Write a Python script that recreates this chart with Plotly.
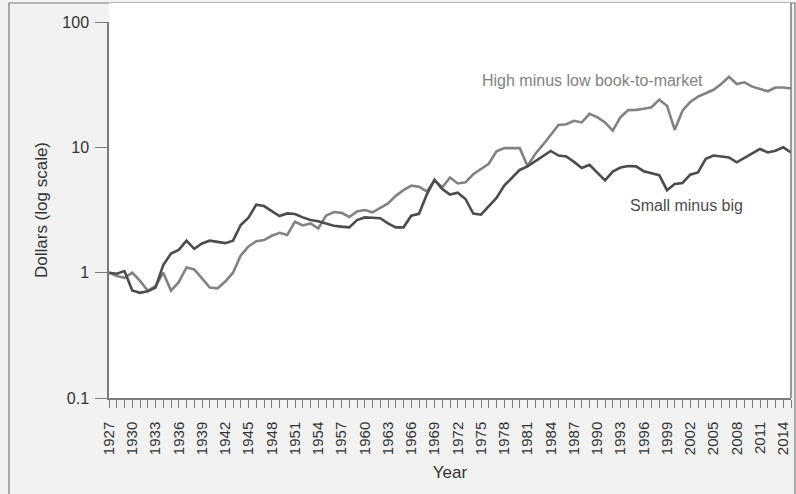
import math
import plotly.graph_objects as go

# Cumulative value of $1 invested in 1927, Fama-French factor portfolios
years = list(range(1927, 2016))

small_minus_big = [
    1.00, 0.98, 1.03, 0.72, 0.69, 0.71, 0.76, 1.15, 1.42, 1.52,  # 1927-1936
    1.80, 1.55, 1.71, 1.80, 1.76, 1.72, 1.80, 2.40, 2.75, 3.49,  # 1937-1946
    3.40, 3.08, 2.83, 2.97, 2.94, 2.76, 2.63, 2.57, 2.45, 2.37,  # 1947-1956
    2.33, 2.30, 2.63, 2.76, 2.74, 2.72, 2.47, 2.30, 2.30, 2.85,  # 1957-1966
    2.95, 4.20, 5.50, 4.65, 4.20, 4.35, 3.87, 2.96, 2.90, 3.40,  # 1967-1976
    3.95, 4.95, 5.75, 6.60, 7.05, 7.75, 8.40, 9.35, 8.60, 8.45,  # 1977-1986
    7.65, 6.85, 7.26, 6.30, 5.45, 6.40, 6.90, 7.10, 7.05, 6.45,  # 1987-1996
    6.20, 6.00, 4.55, 5.10, 5.20, 6.05, 6.30, 8.10, 8.60, 8.40,  # 1997-2006
    8.30, 7.60, 8.20, 8.95, 9.70, 9.10, 9.40, 10.0, 9.10,        # 2007-2015
]

high_minus_low = [
    1.00, 0.94, 0.91, 1.00, 0.86, 0.72, 0.78, 1.00, 0.72, 0.84,  # 1927-1936
    1.10, 1.06, 0.90, 0.76, 0.75, 0.85, 1.00, 1.37, 1.62, 1.78,  # 1937-1946
    1.82, 1.97, 2.08, 2.00, 2.55, 2.38, 2.47, 2.25, 2.85, 3.05,  # 1947-1956
    3.00, 2.78, 3.08, 3.16, 3.03, 3.30, 3.57, 4.10, 4.55, 4.95,  # 1957-1966
    4.85, 4.45, 5.45, 4.80, 5.75, 5.15, 5.26, 6.10, 6.70, 7.40,  # 1967-1976
    9.30, 9.85, 9.85, 9.85, 7.10, 8.86, 10.5, 12.5, 15.1, 15.3,  # 1977-1986
    16.3, 15.8, 18.5, 17.4, 15.8, 13.6, 17.4, 19.8, 19.9, 20.3,  # 1987-1996
    20.9, 24.0, 21.5, 13.8, 19.6, 23.0, 25.4, 27.0, 28.8, 32.0,  # 1997-2006
    36.6, 32.0, 33.0, 30.5, 29.2, 28.0, 30.0, 30.0, 29.5,        # 2007-2015
]

y_ticks = [0.1, 1, 10, 100]
y_tick_labels = ["0.1", "1", "10", "100"]
x_label_years = list(range(1927, 2016, 3))

FONT = "Liberation Sans, Arial, sans-serif"
TEXT = "#333333"
DARK = "#4c4c4c"
LIGHT = "#828282"
AXIS = "#7a7a7a"

fig = go.Figure()
fig.add_trace(go.Scatter(x=years, y=high_minus_low, mode="lines",
                         line=dict(color=LIGHT, width=2.6), name="HML"))
fig.add_trace(go.Scatter(x=years, y=small_minus_big, mode="lines",
                         line=dict(color=DARK, width=2.6), name="SMB"))

# series labels (log axis: annotation y is given in log10 units)
fig.add_annotation(x=1974.9, y=math.log10(34), xref="x", yref="y",
                   xanchor="left", yanchor="middle",
                   text="High minus low book-to-market", showarrow=False,
                   font=dict(family=FONT, size=16, color=LIGHT))
fig.add_annotation(x=1994.0, y=math.log10(3.43), xref="x", yref="y",
                   xanchor="left", yanchor="middle",
                   text="Small minus big", showarrow=False,
                   font=dict(family=FONT, size=16, color=DARK))

# outer frame, white strip above the plot area and right edge line
fig.add_shape(type="rect", xref="paper", yref="paper",
              x0=-100 / 682, x1=4 / 682 + 1, y0=-100 / 376, y1=1 + 19 / 376,
              line=dict(color=AXIS, width=1.2), fillcolor="rgba(0,0,0,0)",
              layer="below")
fig.add_shape(type="rect", xref="paper", yref="paper",
              x0=0, x1=1, y0=1, y1=1 + 19 / 376,
              line=dict(width=0), fillcolor="white", layer="below")
fig.add_shape(type="line", xref="paper", yref="paper",
              x0=1, x1=1, y0=0, y1=1 + 19 / 376,
              line=dict(color=AXIS, width=1.5))

fig.update_xaxes(
    range=[1927, 2015], tickmode="array",
    tickvals=years,
    ticktext=[str(y) if y in x_label_years else "" for y in years],
    tickangle=-90, ticks="outside", ticklen=8, tickcolor=AXIS, tickwidth=1.2,
    ticklabelstandoff=8,
    showline=True, linecolor=AXIS, linewidth=1.5, showgrid=False, zeroline=False,
    tickfont=dict(family=FONT, size=15, color=TEXT),
    title=dict(text="Year", font=dict(family=FONT, size=17, color=TEXT),
               standoff=12),
)
fig.update_yaxes(
    type="log", range=[-1, 2], tickmode="array",
    tickvals=y_ticks, ticktext=y_tick_labels,
    ticks="outside", ticklen=12, tickcolor=AXIS, tickwidth=1.2,
    ticklabelstandoff=3,
    showline=True, linecolor=AXIS, linewidth=1.5, showgrid=False, zeroline=False,
    tickfont=dict(family=FONT, size=16, color=TEXT),
    title=dict(text="Dollars (log scale)",
               font=dict(family=FONT, size=17, color=TEXT), standoff=10),
)

fig.update_layout(
    width=796, height=494,
    margin=dict(l=109, r=5, t=22, b=96),
    paper_bgcolor="#f2f2f2", plot_bgcolor="white",
    showlegend=False,
)

fig.write_html("out.html")
